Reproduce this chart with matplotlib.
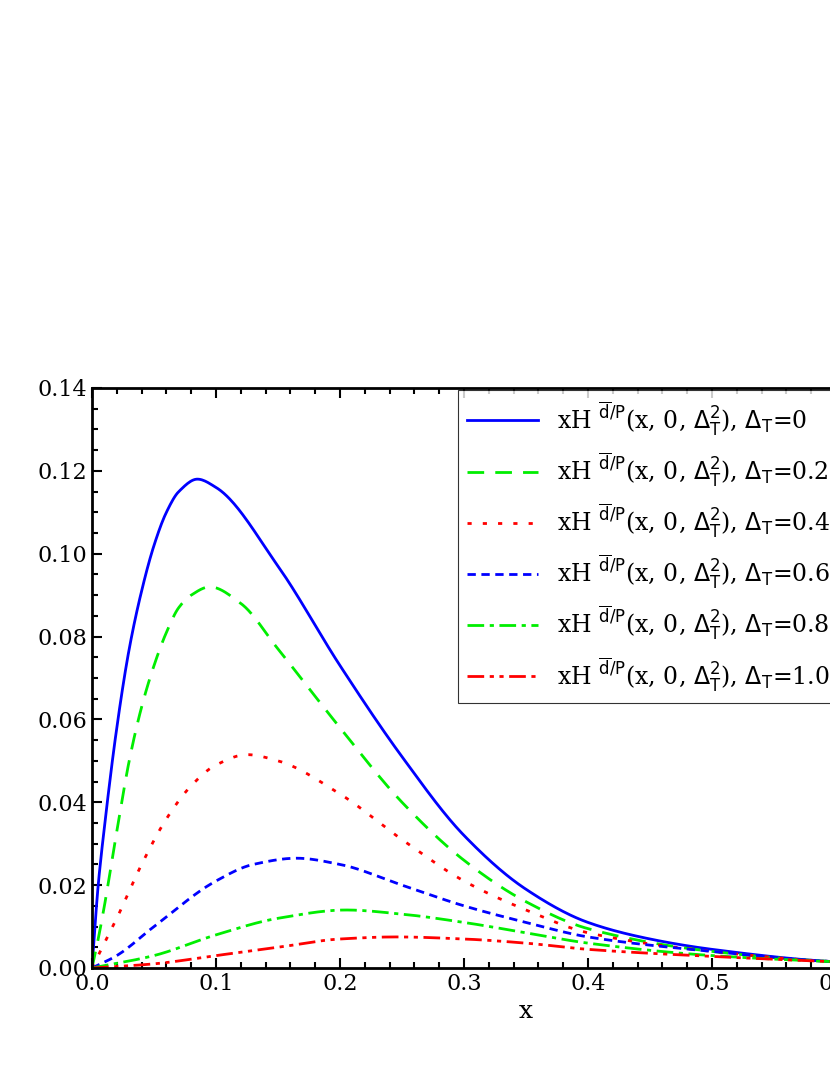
import matplotlib
matplotlib.use("Agg")
import matplotlib.pyplot as plt
import numpy as np
from matplotlib.ticker import MultipleLocator, FormatStrFormatter

x_blue = [0,0.005,0.01,0.02,0.03,0.04,0.05,0.06,0.07,0.085,0.1,0.15,0.2,0.25,0.3,0.35,0.4,0.45,0.5,0.6,0.7]
y_blue = [0,0.02,0.034,0.058,0.077,0.091,0.102,0.11,0.115,0.118,0.116,0.097,0.073,0.051,0.032,0.019,0.011,0.007,0.0045,0.0015,0.0005]
x_g1 = [0,0.005,0.01,0.02,0.03,0.04,0.05,0.06,0.07,0.08,0.095,0.12,0.15,0.2,0.25,0.3,0.35,0.4,0.5,0.6,0.7]
y_g1 = [0,0.007,0.015,0.033,0.05,0.063,0.073,0.081,0.087,0.09,0.092,0.088,0.077,0.058,0.04,0.026,0.016,0.0095,0.004,0.0015,0.0005]
x_r1 = [0,0.01,0.02,0.04,0.06,0.08,0.1,0.125,0.15,0.2,0.25,0.3,0.35,0.4,0.5,0.6,0.7]
y_r1 = [0,0.006,0.012,0.025,0.036,0.044,0.049,0.0515,0.05,0.042,0.031,0.021,0.014,0.0085,0.004,0.0015,0.0005]
x_b2 = [0,0.02,0.05,0.1,0.13,0.165,0.2,0.25,0.3,0.35,0.4,0.5,0.6,0.7]
y_b2 = [0,0.003,0.01,0.021,0.025,0.0265,0.025,0.02,0.015,0.011,0.0075,0.004,0.0015,0.0005]
x_g2 = [0,0.05,0.1,0.15,0.205,0.25,0.3,0.35,0.4,0.5,0.6,0.7]
y_g2 = [0,0.003,0.008,0.012,0.014,0.013,0.011,0.0085,0.006,0.003,0.0015,0.0005]
x_r2 = [0,0.05,0.1,0.15,0.2,0.245,0.3,0.35,0.4,0.5,0.6,0.7]
y_r2 = [0,0.001,0.003,0.005,0.007,0.0075,0.007,0.006,0.0045,0.0028,0.0015,0.0005]
deltas = ["0", "0.2", "0.4", "0.6", "0.8", "1.0"]

def smooth(xs, ys):
    xs = np.asarray(xs); ys = np.asarray(ys)
    xx = np.linspace(xs[0], xs[-1], 600)
    h = np.diff(xs); d = np.diff(ys)/h
    m = np.zeros_like(ys)
    for k in range(1, len(xs)-1):
        if d[k-1]*d[k] > 0:
            w1 = 2*h[k]+h[k-1]; w2 = h[k]+2*h[k-1]
            m[k] = (w1+w2)/(w1/d[k-1]+w2/d[k])
    m[0] = d[0]; m[-1] = d[-1]
    idx = np.clip(np.searchsorted(xs, xx)-1, 0, len(xs)-2)
    t = (xx-xs[idx])/h[idx]
    h00 = 2*t**3-3*t**2+1; h10 = t**3-2*t**2+t; h01 = -2*t**3+3*t**2; h11 = t**3-t**2
    yy = h00*ys[idx]+h10*h[idx]*m[idx]+h01*ys[idx+1]+h11*h[idx]*m[idx+1]
    return xx, yy

plt.rcParams['font.family'] = ['DejaVu Serif']
fig = plt.figure(figsize=(8.30, 10.75), dpi=100)
ax = fig.add_axes([92/830, (1075-968)/1075, 868/830, 580/1075])

series = [(x_blue, y_blue, 'blue', '-'),
          (x_g1, y_g1, '#00ee00', (0, (6, 4))),
          (x_r1, y_r1, 'red', (0, (1.5, 4))),
          (x_b2, y_b2, 'blue', (0, (3, 2))),
          (x_g2, y_g2, '#00ee00', (0, (6, 2, 1.5, 2))),
          (x_r2, y_r2, 'red', (0, (6, 2, 1.5, 2, 1.5, 2)))]
lines = []
for (xs, ys, c, ls), d in zip(series, deltas):
    xx, yy = smooth(xs, ys)
    l, = ax.plot(xx, yy, color=c, ls=ls, lw=2,
                 label=r'xH $^{\overline{\rm d}/\rm P}$(x, 0, $\Delta_{\rm T}^2$), $\Delta_{\rm T}$=' + d)
    lines.append(l)

ax.set_xlim(0, 0.7)
ax.set_ylim(0, 0.14)
ax.xaxis.set_major_locator(MultipleLocator(0.1))
ax.xaxis.set_minor_locator(MultipleLocator(0.02))
ax.yaxis.set_major_locator(MultipleLocator(0.02))
ax.yaxis.set_minor_locator(MultipleLocator(0.005))
ax.xaxis.set_major_formatter(FormatStrFormatter('%.1f'))
ax.yaxis.set_major_formatter(FormatStrFormatter('%.2f'))
ax.tick_params(which='both', direction='in', top=True, right=True, labelsize=16, width=1.5)
ax.tick_params(which='major', length=7)
ax.tick_params(which='minor', length=4)
for s in ax.spines.values():
    s.set_linewidth(2)
ax.set_xlabel('x', fontsize=18)

leg = fig.legend(handles=lines, loc='upper left', bbox_to_anchor=(458/830, 1-390/1075),
                 fontsize=17, frameon=True, fancybox=False, edgecolor='black',
                 handlelength=3, borderaxespad=0, labelspacing=0.55)
leg.get_frame().set_linewidth(0.8)
fig.savefig('out.png', dpi=100)
